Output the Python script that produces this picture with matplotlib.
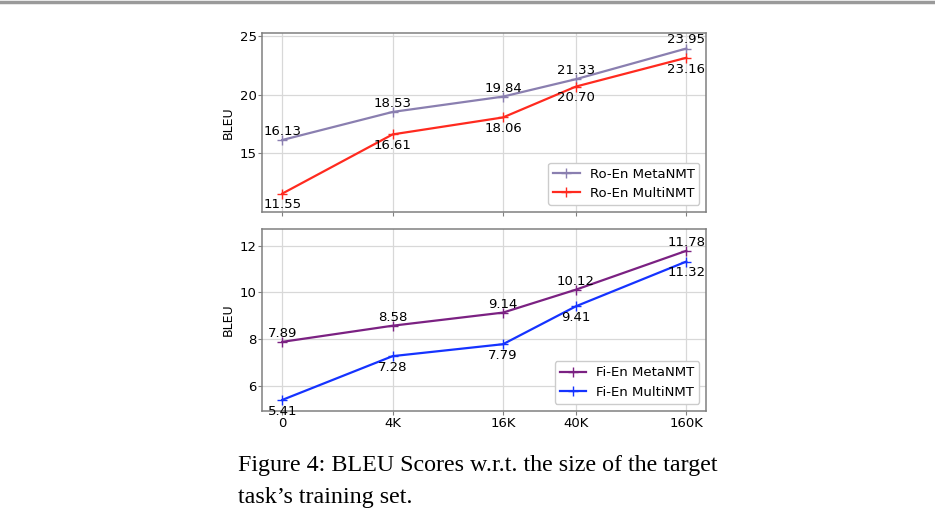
import numpy as np
import matplotlib
matplotlib.use('Agg')
import matplotlib.pyplot as plt
from matplotlib.lines import Line2D
from matplotlib.ticker import NullLocator

# training set sizes (in thousands; "0" drawn at the 1K position of the log axis)
sizes = [1, 4, 16, 40, 160]
size_labels = ['0', '4K', '16K', '40K', '160K']

ro_meta = [16.13, 18.53, 19.84, 21.33, 23.95]
ro_multi = [11.55, 16.61, 18.06, 20.70, 23.16]
fi_meta = [7.89, 8.58, 9.14, 10.12, 11.78]
fi_multi = [5.41, 7.28, 7.79, 9.41, 11.32]

fig = plt.figure(figsize=(9.35, 5.28), dpi=100)
ax1 = fig.add_axes([0.2802, 0.599, 0.4749, 0.339])
ax2 = fig.add_axes([0.2802, 0.2222, 0.4749, 0.3436])


def draw(ax, meta, multi, c_meta, c_multi, name, ylim, yticks):
    ax.plot(sizes, meta, color=c_meta, marker='+', markersize=7, linewidth=1.6,
            label=name + ' MetaNMT')
    ax.plot(sizes, multi, color=c_multi, marker='+', markersize=7, linewidth=1.6,
            label=name + ' MultiNMT')
    for x, y in zip(sizes, meta):
        ax.annotate('%.2f' % y, (x, y), xytext=(0, 1.5), textcoords='offset points',
                    ha='center', va='bottom', fontsize=9.5)
    for x, y in zip(sizes, multi):
        ax.annotate('%.2f' % y, (x, y), xytext=(0, -3.5), textcoords='offset points',
                    ha='center', va='top', fontsize=9.5)
    ax.set_xscale('log')
    ax.set_xlim(0.775, 205)
    ax.set_xticks(sizes)
    ax.xaxis.set_minor_locator(NullLocator())
    ax.set_ylim(*ylim)
    ax.set_yticks(yticks)
    ax.grid(True, color='#d8d8d8', linewidth=0.9)
    ax.set_axisbelow(True)
    for s in ax.spines.values():
        s.set_color('#808080')
        s.set_linewidth(1.1)
    ax.tick_params(axis='both', labelsize=9.5, colors='#808080', labelcolor='black',
                   length=3)
    ax.tick_params(axis='y', pad=0.8)
    ax.tick_params(axis='x', pad=1.5)
    ax.set_ylabel('BLEU', fontsize=9, labelpad=3.5)
    ax.legend(loc='lower right', fontsize=9.5, handlelength=2.0, handletextpad=0.75,
              borderpad=0.38, edgecolor='#cccccc', framealpha=1)


draw(ax1, ro_meta, ro_multi, '#8a7fb0', '#ff2a1f', 'Ro-En', (10.0, 25.3), [15, 20, 25])
ax1.set_xticklabels([])
draw(ax2, fi_meta, fi_multi, '#7b2182', '#1533ff', 'Fi-En', (4.95, 12.7), [6, 8, 10, 12])
ax2.set_xticklabels(size_labels)

# page rule at top and the caption
fig.add_artist(Line2D([0, 1], [0.997, 0.997], color='#9a9a9a', linewidth=2.5))
fig.text(0.2545, 1 - 471.5 / 528, 'Figure 4: BLEU Scores w.r.t. the size of the target',
         fontsize=17.3, family='Liberation Serif', va='baseline')
fig.text(0.2545, 1 - 502.5 / 528, 'task\u2019s training set.',
         fontsize=17.3, family='Liberation Serif', va='baseline')

fig.savefig('out.png', dpi=100)
